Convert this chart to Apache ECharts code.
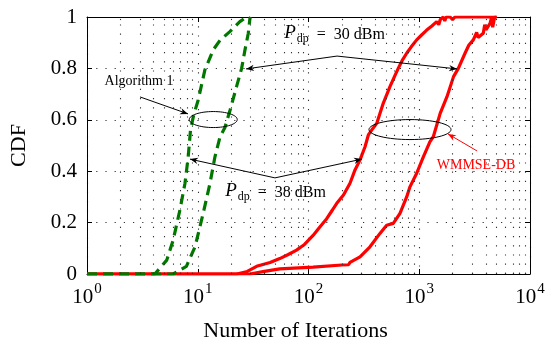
<!DOCTYPE html>
<html>
<head>
<meta charset="utf-8">
<script src="https://cdn.jsdelivr.net/npm/echarts@6/dist/echarts.min.js"></script>
<style>
html, body { margin: 0; background: #fff; }
#cdfChart { width: 545px; height: 340px; }
</style>
</head>
<body>
<div id="cdfChart"></div>
<script>
// CDF curves, points are [iterations, CDF]
var alg38 = [[1,0],[4.1,0],[5.25,0.054],[6.0,0.132],[6.9,0.249],[7.67,0.353],[8.2,0.456],[8.6,0.56],
	[9.2,0.62],[10.1,0.677],[11.6,0.794],[13.8,0.872],[15.9,0.91],[19.5,0.943],[24,0.982],[27.6,1.0]];
var alg30 = [[1,0],[6.0,0],[7.9,0.03],[9.45,0.106],[11.2,0.236],[12.9,0.353],[14.3,0.456],[15.9,0.534],
	[17.6,0.57],[19.6,0.638],[22.4,0.729],[24.9,0.8],[26.7,0.872],[28.6,0.937],[29.6,0.995],[30,1]];
var wmmse38 = [[1,0],[22.5,0],[28,0.01],[34,0.03],[45,0.045],[55,0.06],[65,0.075],[78,0.093],[92,0.115],
	[110,0.15],[125,0.18],[146,0.215],[165,0.25],[180,0.275],[207,0.307],[237,0.353],[263,0.405],[292,0.444],
	[324,0.495],[347,0.541],[372,0.56],[413,0.586],[473,0.664],[544,0.729],[600,0.77],[646,0.8],[700,0.83],
	[770,0.859],[850,0.885],[948,0.911],[1050,0.93],[1168,0.949],[1300,0.965],[1438,0.982],[1500,0.97],
	[1550,0.99],[1650,1.0],[1700,0.985],[1750,1.0],[1900,1],[2000,0.99],[2100,1],[5000,1]];
var wmmse30 = [[1,0],[29.6,0],[40,0.01],[55,0.02],[110,0.027],[200,0.035],[230,0.036],[237,0.045],[292,0.067],
	[359,0.106],[442,0.158],[508,0.19],[583,0.197],[670,0.236],[770,0.3],[826,0.34],[948,0.392],[1089,0.456],
	[1250,0.515],[1340,0.534],[1545,0.625],[1780,0.69],[2040,0.768],[2254,0.8],[2590,0.859],[2800,0.89],
	[3078,0.911],[3300,0.94],[3400,0.92],[3787,0.937],[3900,0.97],[4000,0.95],[4360,0.975],[4500,1],
	[4600,0.96],[4800,1],[5010,1]];

var xMin = 1, xMax = 10000;

// annotation anchors in data coordinates
var algLabelAt = [2.95, 0.751];
var algArrow = [[3.01, 0.689], [8.17, 0.623]];
var greenRing = [13.8, 0.601];
var redRing = [825, 0.562];
var p30LabelAt = [172, 0.934];
var p30Arrow = [[27.3, 0.798], [181, 0.848], [2193, 0.798]];
var p38LabelAt = [50.4, 0.319];
var p38Arrow = [[8.51, 0.447], [49.8, 0.374], [304, 0.447]];
var dbLabelAt = [3254, 0.424];
var dbArrow = [[3320, 0.479], [1818, 0.545]];

var serif = '"Liberation Serif", "DejaVu Serif", serif';
var green = '#007800';
var red = '#ff0000';
var dotted = { type: [1.2, 8], color: '#333', width: 1.1 };
var frame = { show: true, onZero: false, lineStyle: { color: '#000', width: 1 } };
var ticks = { show: true, inside: true, length: 5, lineStyle: { color: '#000' } };

// minor log positions 2..9 x 10^n
var minorX = [];
for (var n = 0; n < 4; n++) {
	for (var k = 2; k < 10; k++) minorX.push(k * Math.pow(10, n));
}
var minorMarks = [];
for (var i = 0; i < minorX.length; i++) {
	minorMarks.push({ xAxis: minorX[i] });
	minorMarks.push([{ coord: [minorX[i], 0] }, { coord: [minorX[i], 0.012] }]);
	minorMarks.push([{ coord: [minorX[i], 0.988] }, { coord: [minorX[i], 1] }]);
}

var cdfChart = echarts.init(document.getElementById('cdfChart'));

var option = {
	animation: false,
	grid: { left: 87, right: 15, top: 17, bottom: 66, outerBoundsMode: 'none', containLabel: false },
	xAxis: [{
		type: 'log', logBase: 10, min: xMin, max: xMax,
		name: 'Number of Iterations', nameLocation: 'middle', nameGap: 46,
		nameTextStyle: { fontFamily: serif, fontSize: 22, color: '#000', padding: [0, 26, 0, 0] },
		axisLine: frame,
		axisTick: ticks,
		axisLabel: {
			margin: 8,
			formatter: function (v) {
				return '{b|10}{s|' + Math.round(Math.log(v) / Math.LN10) + '}';
			},
			rich: {
				b: { fontFamily: serif, fontSize: 21, color: '#000', verticalAlign: 'bottom' },
				s: { fontFamily: serif, fontSize: 15, color: '#000', verticalAlign: 'bottom', padding: [0, 0, 11, 1] }
			}
		},
		splitLine: { show: true, lineStyle: dotted }
	}, {
		type: 'log', logBase: 10, min: xMin, max: xMax, position: 'top',
		axisLine: frame,
		axisTick: ticks,
		axisLabel: { show: false },
		splitLine: { show: false }
	}],
	yAxis: [{
		type: 'value', min: 0, max: 1, interval: 0.2,
		name: 'CDF', nameLocation: 'middle', nameGap: 57,
		nameTextStyle: { fontFamily: serif, fontSize: 22, color: '#000' },
		axisLine: frame,
		axisTick: ticks,
		axisLabel: { fontFamily: serif, fontSize: 21, color: '#000', margin: 10 },
		splitLine: { show: true, lineStyle: dotted }
	}, {
		type: 'value', min: 0, max: 1, interval: 0.2, position: 'right',
		axisLine: frame,
		axisTick: ticks,
		axisLabel: { show: false },
		splitLine: { show: false }
	}],
	series: [{
		name: 'grid', type: 'line', data: [[1, -1]], showSymbol: false, silent: true, z: 1,
		lineStyle: { width: 0 },
		markLine: {
			silent: true, symbol: 'none', animation: false,
			label: { show: false },
			lineStyle: dotted,
			emphasis: { disabled: true },
			data: minorMarks
		}
	}, {
		name: 'WMMSE-DB 30', type: 'line', data: wmmse30, showSymbol: false, z: 3,
		lineStyle: { color: red, width: 3.2 }
	}, {
		name: 'WMMSE-DB 38', type: 'line', data: wmmse38, showSymbol: false, z: 3,
		lineStyle: { color: red, width: 3.2 }
	}, {
		name: 'Algorithm 1 30', type: 'line', data: alg30, showSymbol: false, z: 4,
		lineStyle: { color: green, width: 3.2, type: [10, 6] }
	}, {
		name: 'Algorithm 1 38', type: 'line', data: alg38, showSymbol: false, z: 4,
		lineStyle: { color: green, width: 3.2, type: [10, 6] }
	}]
};

cdfChart.setOption(option);

// annotations
function px(p) {
	return cdfChart.convertToPixel({ xAxisIndex: 0, yAxisIndex: 0 }, p);
}
function head(tip, from, color) {
	var dx = tip[0] - from[0], dy = tip[1] - from[1];
	var len = Math.sqrt(dx * dx + dy * dy);
	var ux = dx / len, uy = dy / len;
	var L = 8, W = 3.2;
	return {
		type: 'polygon', z: 10,
		shape: { points: [
			tip,
			[tip[0] - ux * L - uy * W, tip[1] - uy * L + ux * W],
			[tip[0] - ux * L * 0.7, tip[1] - uy * L * 0.7],
			[tip[0] - ux * L + uy * W, tip[1] - uy * L - ux * W]
		] },
		style: { fill: color }
	};
}
function arrowPath(pts, color, bothEnds) {
	var p = pts.map(px);
	var out = [{ type: 'polyline', z: 10, shape: { points: p }, style: { stroke: color, lineWidth: 1, fill: null } }];
	out.push(head(p[p.length - 1], p[p.length - 2], color));
	if (bothEnds) out.push(head(p[0], p[1], color));
	return out;
}
function ring(c, rx, ry, color) {
	var p = px(c);
	return { type: 'ellipse', z: 10, shape: { cx: p[0], cy: p[1], rx: rx, ry: ry },
		style: { stroke: color, lineWidth: 1, fill: null } };
}
function label(at, text, color, rich) {
	var p = px(at);
	return { type: 'text', z: 10, x: p[0], y: p[1],
		style: { text: text, align: 'center', verticalAlign: 'middle', fill: color,
			fontFamily: serif, fontSize: 14, rich: rich } };
}
var pRich = {
	p: { fontFamily: serif, fontSize: 19, fontStyle: 'italic', verticalAlign: 'bottom', padding: [0, 1, 2, 0] },
	d: { fontFamily: serif, fontSize: 12, verticalAlign: 'bottom' },
	t: { fontFamily: serif, fontSize: 16, verticalAlign: 'bottom', padding: [0, 0, 2, 0] }
};

var g = [];
g.push(label(algLabelAt, 'Algorithm 1', '#000'));
g = g.concat(arrowPath(algArrow, '#000', false));
g.push(ring(greenRing, 24, 8, '#000'));
g.push(ring(redRing, 41, 10, '#000'));
g.push(label(p30LabelAt, '{p|P}{d|dp}{t|  =  30 dBm}', '#000', pRich));
g = g.concat(arrowPath(p30Arrow, '#000', true));
g.push(label(p38LabelAt, '{p|P}{d|dp}{t|  =  38 dBm}', '#000', pRich));
g = g.concat(arrowPath(p38Arrow, '#000', true));
g.push(label(dbLabelAt, 'WMMSE-DB', red));
g = g.concat(arrowPath(dbArrow, red, false));

cdfChart.setOption({ graphic: g });
</script>
</body>
</html>
